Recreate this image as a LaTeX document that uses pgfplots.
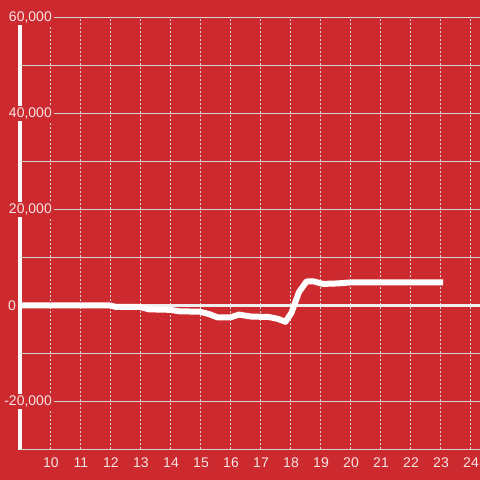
\documentclass[border=0pt]{standalone}
\usepackage{fontspec}
\setmainfont{Liberation Sans}
\usepackage{pgfplots}
\pgfplotsset{compat=1.18}
\definecolor{bgred}{RGB}{204,42,46}
\definecolor{gridgray}{RGB}{214,214,214}
\definecolor{lbl}{RGB}{246,228,228}
\definecolor{zeroline}{RGB}{238,238,238}

\begin{document}
\begin{tikzpicture}
\useasboundingbox (-20bp,-30.5bp) rectangle (460bp,449.5bp);
\fill[bgred] (-20bp,-30.5bp) rectangle (460bp,449.5bp);
% left axis line, hidden behind the tick labels
\draw[white!95!gray,line width=3bp] (0,0) -- (0,432bp);
\begin{axis}[
  at={(0,0)},anchor=south west,scale only axis,
  width=460bp,height=432bp,
  xmin=9,xmax=24.3333,ymin=-30000,ymax=60000,
  axis line style={draw=none},
  major tick length=0pt,minor tick length=0pt,
  xtick={10,...,24},
  ytick={-20000,20000,40000,60000},
  minor ytick={-10000,10000,30000,50000},
  scaled y ticks=false,
  /pgf/number format/assume math mode=true,
  tick label style={font=\fontsize{14bp}{16bp}\selectfont,text=lbl},
  yticklabel style={anchor=east,xshift=34bp,fill=bgred,inner sep=2bp},
  xticklabel style={anchor=center,yshift=-13bp,xshift=1bp},
  xmajorgrids=true,ymajorgrids=true,yminorgrids=true,
  x grid style={gridgray,line width=1bp,dash pattern=on 2bp off 2bp},
  y grid style={gridgray,line width=1bp},
  minor y grid style={gridgray,line width=1bp},
  extra y ticks={0},
  extra y tick style={grid=none,yticklabel style={anchor=center,xshift=-42bp}},
]
\draw[zeroline,line width=3bp] (axis cs:9,0) -- (axis cs:24.3333,0);
\draw[gridgray,line width=1bp] (axis cs:9,-30000) -- (axis cs:24.3333,-30000);
\addplot[white,line width=6bp,line join=round,mark=none] coordinates {
(8.9,0) (12.0,0) (12.2,-300) (13.0,-300) (13.3,-800) (14.0,-900)
(14.3,-1200) (15.0,-1300) (15.3,-1800) (15.6,-2500) (16.0,-2500)
(16.3,-1900) (16.7,-2300) (17.3,-2400) (17.6,-2800) (17.85,-3400)
(18.05,-1500) (18.3,2800) (18.55,5000) (18.8,5000) (19.1,4500)
(19.6,4600) (20.0,4800) (23.1,4800)
};
\end{axis}
\end{tikzpicture}
\end{document}
